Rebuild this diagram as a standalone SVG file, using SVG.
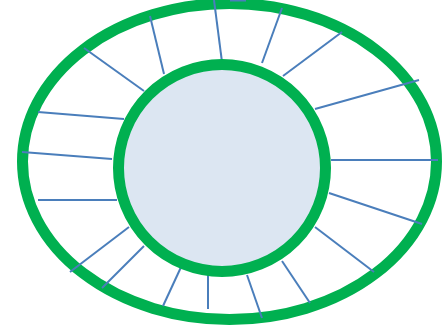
<svg xmlns="http://www.w3.org/2000/svg" width="442" height="330" viewBox="0 0 442 330">
<style>
.ring{fill:none;stroke:#00b050;stroke-width:11}
.hub{fill:#dce6f2;stroke:#00b050;stroke-width:11}
.spoke{stroke:#4a7ebb;stroke-width:2;stroke-linecap:butt}
</style>
<rect width="442" height="330" fill="#ffffff"/>
<g id="outer-ellipse"><ellipse class="ring" cx="229.5" cy="161.5" rx="207" ry="158"/></g>
<g id="connectors">
<line class="spoke" x1="230" y1="0.5" x2="246" y2="0.5"/>
<line class="spoke" x1="214" y1="0" x2="222" y2="62"/>
<line class="spoke" x1="150" y1="16" x2="164" y2="74"/>
<line class="spoke" x1="84" y1="48" x2="144" y2="91"/>
<line class="spoke" x1="38" y1="112" x2="124" y2="119"/>
<line class="spoke" x1="22" y1="152" x2="112" y2="159"/>
<line class="spoke" x1="38" y1="200" x2="117" y2="200"/>
<line class="spoke" x1="129" y1="227" x2="70" y2="272"/>
<line class="spoke" x1="144" y1="246" x2="102" y2="288"/>
<line class="spoke" x1="182" y1="265" x2="163" y2="306"/>
<line class="spoke" x1="208" y1="272" x2="208" y2="309"/>
<line class="spoke" x1="247" y1="275" x2="262" y2="318"/>
<line class="spoke" x1="282" y1="261" x2="310" y2="303"/>
<line class="spoke" x1="315" y1="227" x2="374" y2="272"/>
<line class="spoke" x1="329" y1="193" x2="422" y2="224"/>
<line class="spoke" x1="331" y1="160" x2="438" y2="160"/>
<line class="spoke" x1="315" y1="109" x2="419" y2="80"/>
<line class="spoke" x1="283" y1="76" x2="342" y2="32"/>
<line class="spoke" x1="262" y1="63" x2="282" y2="8"/>
</g>
<g id="inner-circle"><circle class="hub" cx="222" cy="168" r="103.5"/></g>
</svg>
